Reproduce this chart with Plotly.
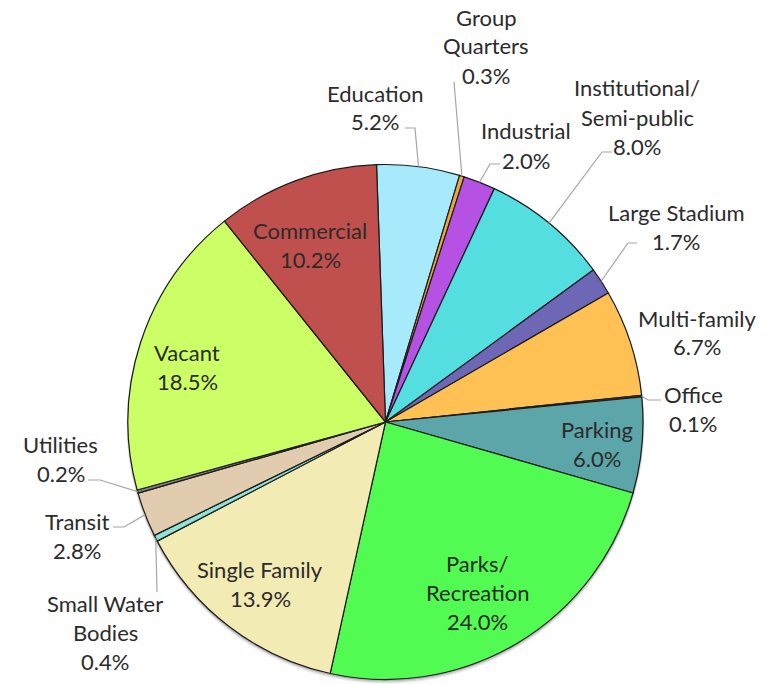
import math
import plotly.graph_objects as go

# ---------------- data ----------------
categories = ["Education", "Group Quarters", "Industrial", "Institutional/Semi-public",
              "Large Stadium", "Multi-family", "Office", "Parking", "Parks/Recreation",
              "Single Family", "Small Water Bodies", "Transit", "Utilities", "Vacant",
              "Commercial"]
values = [5.2, 0.3, 2.0, 8.0, 1.7, 6.7, 0.1, 6.0, 24.0, 13.9, 0.4, 2.8, 0.2, 18.5, 10.2]
label_lines = [["Education"], ["Group", "Quarters"], ["Industrial"],
               ["Institutional/", "Semi-public"], ["Large Stadium"], ["Multi-family"],
               ["Office"], ["Parking"], ["Parks/", "Recreation"], ["Single Family"],
               ["Small Water", "Bodies"], ["Transit"], ["Utilities"], ["Vacant"],
               ["Commercial"]]
colors = ["#A6EAFB", "#E8A93C", "#B552E4", "#55DEDF", "#6E67B6", "#FFC153", "#8E2F2F",
          "#5CA5A8", "#52FB52", "#F3EBB4", "#8DE3D6", "#E2CCAF", "#7F7F7F", "#CCFF66",
          "#C0504D"]

# ---------------- layout constants ----------------
# page body has an 8px margin; figure spans 8..780 x 8..684 of the window
OX, OY = 8, 8
W, H = 772, 676
CX, CY, R = 385.5, 422.0, 257.5   # window pixel coordinates
ROT = -2
LINE_STEP = 29
FONT = "Lato"
TEXT_COLOR = "#2b2b2b"

# label centre (x, y of first line) in window pixels
label_pos = {
    "Education": (375, 93), "Group Quarters": (486, 17), "Industrial": (526, 131),
    "Institutional/Semi-public": (637, 88), "Large Stadium": (676, 212),
    "Multi-family": (697, 318), "Office": (693, 394), "Parking": (597, 429),
    "Parks/Recreation": (477, 563), "Single Family": (260, 569),
    "Small Water Bodies": (105, 603), "Transit": (77, 521), "Utilities": (61, 444),
    "Vacant": (187, 352), "Commercial": (310, 230),
}
# leader line elbow points (window pixels), ending on the slice edge
leaders = {
    "Education": [(405, 128), (415, 128)],
    "Group Quarters": [(454, 82)],
    "Industrial": [(500, 164), (490, 164)],
    "Institutional/Semi-public": [(612, 152), (602, 152)],
    "Large Stadium": [(637, 243), (628, 243)],
    "Office": [(661, 400), (648, 400)],
    "Utilities": [(88, 480), (100, 480)],
    "Transit": [(113, 527), (124, 527)],
    "Small Water Bodies": [(157, 592)],
}


def px(x, y):
    return (x - OX) / W, 1 - (y - OY) / H


def domain(cx, cy, r):
    x0, y1 = px(cx - r, cy - r)
    x1, y0 = px(cx + r, cy + r)
    return dict(x=[max(0.0, x0), min(1.0, x1)], y=[max(0.0, y0), min(1.0, y1)])


fig = go.Figure()

# soft shadow
for grow, dy, op in [(1.5, 2.8, 0.07), (1.0, 2.0, 0.10), (0.5, 1.2, 0.14)]:
    fig.add_trace(go.Pie(
        values=[1], labels=["shadow"], marker=dict(colors=[f"rgba(0,0,0,{op})"]),
        textinfo="none", hoverinfo="skip", showlegend=False, sort=False,
        domain=domain(CX, CY + dy, R + grow),
    ))

fig.add_trace(go.Pie(
    values=values, labels=categories, sort=False, direction="clockwise", rotation=ROT,
    marker=dict(colors=colors, line=dict(color="#1c1c1c", width=1.2)),
    textinfo="none", hoverinfo="label+percent", showlegend=False,
    domain=domain(CX, CY, R),
))

total = sum(values)
annotations = []
shapes = []
cum = 0.0
for cat, v, lines in zip(categories, values, label_lines):
    mid = ROT + 360 * (cum + v / 2) / total
    cum += v
    lx, ly = label_pos[cat]
    texts = lines + [f"{v / total * 100:.1f}%"]
    for i, t in enumerate(texts):
        x, y = px(lx, ly + i * LINE_STEP)
        annotations.append(dict(x=x, y=y, xref="paper", yref="paper", text=t,
                                showarrow=False, xanchor="center", yanchor="middle",
                                font=dict(family=FONT, size=22, color=TEXT_COLOR)))
    if cat in leaders:
        a = math.radians(mid)
        ex, ey = CX + R * math.sin(a), CY - R * math.cos(a)
        pts = leaders[cat] + [(ex, ey)]
        path = "M " + " L ".join(f"{px(x, y)[0]:.5f},{px(x, y)[1]:.5f}" for x, y in pts)
        shapes.append(dict(type="path", path=path, xref="paper", yref="paper",
                           line=dict(color="#A6A6A6", width=1.2)))

fig.update_layout(
    width=W, height=H, margin=dict(l=0, r=0, t=0, b=0),
    paper_bgcolor="white", plot_bgcolor="white",
    annotations=annotations, shapes=shapes,
)

fig.write_html("out.html")
